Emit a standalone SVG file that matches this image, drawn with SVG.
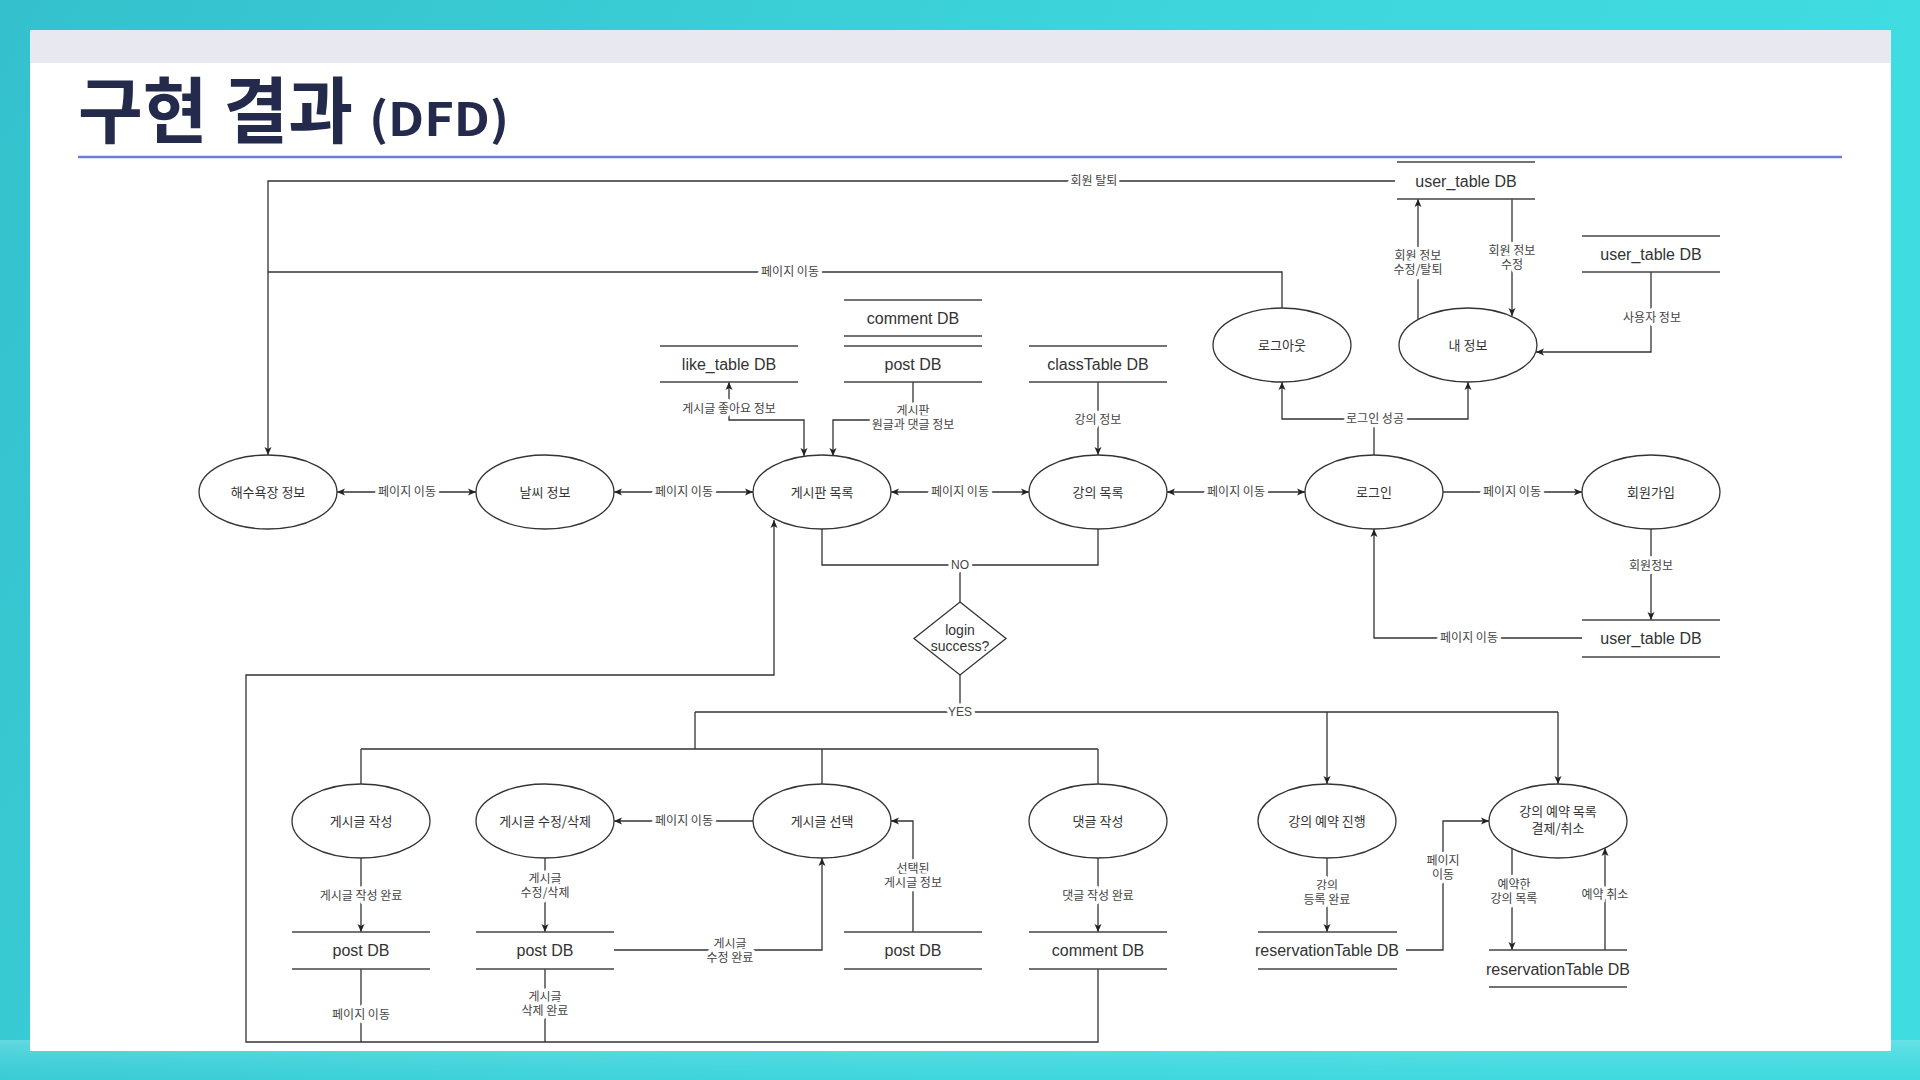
<svg xmlns="http://www.w3.org/2000/svg" width="1920" height="1080" viewBox="0 0 1920 1080">
<defs>
<linearGradient id="bg" x1="0" y1="0" x2="1" y2="0.3">
<stop offset="0" stop-color="#34c1cd"/>
<stop offset="0.6" stop-color="#3ed6dd"/>
<stop offset="1" stop-color="#3fdde1"/>
</linearGradient>
<linearGradient id="bottomwash" x1="0" y1="0" x2="0" y2="1">
<stop offset="0" stop-color="#8fe6ea" stop-opacity="0.5"/>
<stop offset="1" stop-color="#3ccfd8" stop-opacity="0.2"/>
</linearGradient>
<marker id="arr" viewBox="0 0 8 8" markerWidth="8" markerHeight="8" refX="8" refY="4" orient="auto-start-reverse" markerUnits="userSpaceOnUse">
<path d="M0,0.5 L8,4 L0,7.5 L2,4 z" fill="#222"/>
</marker>
<style>
.proc{fill:#fff;stroke:#333;stroke-width:1.3}
.ptxt{font-family:"Noto Sans CJK KR","Noto Sans",sans-serif;font-size:13px;fill:#333;text-anchor:middle}
.ds{stroke:#444;stroke-width:1.3}
.dtxt{font-family:"Liberation Sans",Arial,sans-serif;font-size:16px;fill:#333;text-anchor:middle}
.ln{fill:none;stroke:#333;stroke-width:1.3}
.ar{marker-end:url(#arr)}
.ar2{marker-start:url(#arr);marker-end:url(#arr)}
.lbl{font-family:"Noto Sans CJK KR","Noto Sans",sans-serif;font-size:12px;fill:#444;text-anchor:middle;stroke:#fff;stroke-width:7px;paint-order:stroke;stroke-linejoin:round}
.lbll{font-family:"Liberation Sans",Arial,sans-serif;font-size:12px;fill:#444;text-anchor:middle;stroke:#fff;stroke-width:7px;paint-order:stroke;stroke-linejoin:round}
.title{font-family:"Noto Sans CJK KR","Noto Sans",sans-serif;font-weight:700;fill:#232a4b}
</style>
</defs>

<!-- background & slide -->
<rect x="0" y="0" width="1920" height="1080" fill="url(#bg)"/>
<rect x="0" y="1040" width="1920" height="40" fill="url(#bottomwash)"/>
<rect x="30" y="30" width="1861" height="1021" fill="#ffffff"/>
<rect x="30" y="30" width="1861" height="33" fill="#e8e8f1"/>
<text class="title" x="78" y="137" font-size="72" textLength="275" lengthAdjust="spacingAndGlyphs">구현 결과</text>
<text class="title" x="369" y="136" font-size="46" textLength="140" lengthAdjust="spacingAndGlyphs">(DFD)</text>
<line x1="78" y1="157" x2="1842" y2="157" stroke="#6f7fd0" stroke-width="2.5"/>

<!-- connectors -->
<g id="connectors">
<path class="ln ar" d="M1395,181 H268 V455"/>
<path class="ln" d="M1282,308 V272 H268"/>
<path class="ln ar" d="M1418,319 V199"/>
<path class="ln ar" d="M1512,199 V316"/>
<path class="ln ar" d="M1651,272 V352 H1536"/>
<path class="ln ar2" d="M1282,382 V419 H1468 V382"/>
<path class="ln" d="M1374,455 V419"/>
<path class="ln ar2" d="M729,382 V420 H804 V456"/>
<path class="ln ar" d="M913,382 V420 H833 V456"/>
<path class="ln ar" d="M1098,382 V455"/>
<path class="ln ar2" d="M337,492 H476"/>
<path class="ln ar2" d="M614,492 H753"/>
<path class="ln ar2" d="M891,492 H1029"/>
<path class="ln ar2" d="M1167,492 H1305"/>
<path class="ln ar" d="M1443,492 H1582"/>
<path class="ln ar" d="M1651,529 V620"/>
<path class="ln ar" d="M1582,638 H1374 V529"/>
<path class="ln" d="M822,529 V565 H1098 V529 M960,565 V602"/>
<path class="ln" d="M960,675 V712 M695,712 H1558 M695,712 V749 M361,749 H1098 M361,749 V784 M822,749 V784 M1098,749 V784"/>
<path class="ln ar" d="M1327,712 V784"/>
<path class="ln ar" d="M1558,712 V784"/>
<path class="ln ar" d="M753,821 H614"/>
<path class="ln ar" d="M913,932 V821 H891"/>
<path class="ln ar" d="M361,858 V932"/>
<path class="ln ar" d="M545,858 V932"/>
<path class="ln ar" d="M614,950 H822 V858"/>
<path class="ln ar" d="M1098,858 V932"/>
<path class="ln" d="M361,969 V1042 M545,969 V1042"/>
<path class="ln ar" d="M1098,969 V1042 H246 V675 H774 V520"/>
<path class="ln ar" d="M1327,858 V932"/>
<path class="ln ar" d="M1406,950 H1443 V821 H1489"/>
<path class="ln ar" d="M1512,848 V950"/>
<path class="ln ar" d="M1605,950 V848"/>

<text class="lbl" x="1094" y="185">회원 탈퇴</text>
<text class="lbl" x="790" y="276">페이지 이동</text>
<text class="lbl" x="1418" y="260">회원 정보<tspan x="1418" dy="14">수정/탈퇴</tspan></text>
<text class="lbl" x="1512" y="255">회원 정보<tspan x="1512" dy="14">수정</tspan></text>
<text class="lbl" x="1652" y="322">사용자 정보</text>
<text class="lbl" x="1375" y="423">로그인 성공</text>
<text class="lbl" x="729" y="413">게시글 좋아요 정보</text>
<text class="lbl" x="913" y="415">게시판<tspan x="913" dy="14">원글과 댓글 정보</tspan></text>
<text class="lbl" x="1098" y="424">강의 정보</text>
<text class="lbl" x="407" y="496">페이지 이동</text>
<text class="lbl" x="684" y="496">페이지 이동</text>
<text class="lbl" x="960" y="496">페이지 이동</text>
<text class="lbl" x="1236" y="496">페이지 이동</text>
<text class="lbl" x="1512" y="496">페이지 이동</text>
<text class="lbl" x="1651" y="570">회원정보</text>
<text class="lbl" x="1469" y="642">페이지 이동</text>
<text class="lbll" x="960" y="569">NO</text>
<text class="lbll" x="960" y="716">YES</text>
<text class="lbl" x="684" y="825">페이지 이동</text>
<text class="lbl" x="913" y="873">선택된<tspan x="913" dy="14">게시글 정보</tspan></text>
<text class="lbl" x="361" y="900">게시글 작성 완료</text>
<text class="lbl" x="545" y="883">게시글<tspan x="545" dy="14">수정/삭제</tspan></text>
<text class="lbl" x="730" y="948">게시글<tspan x="730" dy="14">수정 완료</tspan></text>
<text class="lbl" x="1098" y="900">댓글 작성 완료</text>
<text class="lbl" x="361" y="1019">페이지 이동</text>
<text class="lbl" x="545" y="1001">게시글<tspan x="545" dy="14">삭제 완료</tspan></text>
<text class="lbl" x="1327" y="890">강의<tspan x="1327" dy="14">등록 완료</tspan></text>
<text class="lbl" x="1443" y="865">페이지<tspan x="1443" dy="14">이동</tspan></text>
<text class="lbl" x="1514" y="889">예약한<tspan x="1514" dy="14">강의 목록</tspan></text>
<text class="lbl" x="1605" y="899">예약 취소</text>
</g>

<!-- processes -->
<g id="p-beach"><ellipse class="proc" cx="268" cy="492" rx="69" ry="37"/><text class="ptxt" x="268" y="497">해수욕장 정보</text></g>
<g id="p-weather"><ellipse class="proc" cx="545" cy="492" rx="69" ry="37"/><text class="ptxt" x="545" y="497">날씨 정보</text></g>
<g id="p-board"><ellipse class="proc" cx="822" cy="492" rx="69" ry="37"/><text class="ptxt" x="822" y="497">게시판 목록</text></g>
<g id="p-class"><ellipse class="proc" cx="1098" cy="492" rx="69" ry="37"/><text class="ptxt" x="1098" y="497">강의 목록</text></g>
<g id="p-login"><ellipse class="proc" cx="1374" cy="492" rx="69" ry="37"/><text class="ptxt" x="1374" y="497">로그인</text></g>
<g id="p-signup"><ellipse class="proc" cx="1651" cy="492" rx="69" ry="37"/><text class="ptxt" x="1651" y="497">회원가입</text></g>
<g id="p-logout"><ellipse class="proc" cx="1282" cy="345" rx="69" ry="37"/><text class="ptxt" x="1282" y="350">로그아웃</text></g>
<g id="p-myinfo"><ellipse class="proc" cx="1468" cy="345" rx="69" ry="37"/><text class="ptxt" x="1468" y="350">내 정보</text></g>
<g id="p-write"><ellipse class="proc" cx="361" cy="821" rx="69" ry="37"/><text class="ptxt" x="361" y="826">게시글 작성</text></g>
<g id="p-edit"><ellipse class="proc" cx="545" cy="821" rx="69" ry="37"/><text class="ptxt" x="545" y="826">게시글 수정/삭제</text></g>
<g id="p-select"><ellipse class="proc" cx="822" cy="821" rx="69" ry="37"/><text class="ptxt" x="822" y="826">게시글 선택</text></g>
<g id="p-comment"><ellipse class="proc" cx="1098" cy="821" rx="69" ry="37"/><text class="ptxt" x="1098" y="826">댓글 작성</text></g>
<g id="p-reserve"><ellipse class="proc" cx="1327" cy="821" rx="69" ry="37"/><text class="ptxt" x="1327" y="826">강의 예약 진행</text></g>
<g id="p-reslist"><ellipse class="proc" cx="1558" cy="821" rx="69" ry="37"/><text class="ptxt" x="1558" y="816">강의 예약 목록<tspan x="1558" dy="17">결제/취소</tspan></text></g>

<!-- decision -->
<g id="d-login"><path class="proc" d="M960,602 L1006,638.5 L960,675 L914,638.5 z"/><text class="dtxt" style="font-size:14px" x="960" y="635">login</text><text class="dtxt" style="font-size:14px" x="960" y="651">success?</text></g>

<!-- data stores -->
<g id="ds-user1"><line class="ds" x1="1397" y1="162" x2="1535" y2="162"/><line class="ds" x1="1397" y1="199" x2="1535" y2="199"/><text class="dtxt" x="1466" y="187">user_table DB</text></g>
<g id="ds-user2"><line class="ds" x1="1582" y1="236" x2="1720" y2="236"/><line class="ds" x1="1582" y1="272" x2="1720" y2="272"/><text class="dtxt" x="1651" y="260">user_table DB</text></g>
<g id="ds-comment1"><line class="ds" x1="844" y1="300" x2="982" y2="300"/><line class="ds" x1="844" y1="336" x2="982" y2="336"/><text class="dtxt" x="913" y="324">comment DB</text></g>
<g id="ds-post1"><line class="ds" x1="844" y1="346" x2="982" y2="346"/><line class="ds" x1="844" y1="382" x2="982" y2="382"/><text class="dtxt" x="913" y="370">post DB</text></g>
<g id="ds-like"><line class="ds" x1="660" y1="346" x2="798" y2="346"/><line class="ds" x1="660" y1="382" x2="798" y2="382"/><text class="dtxt" x="729" y="370">like_table DB</text></g>
<g id="ds-class"><line class="ds" x1="1029" y1="346" x2="1167" y2="346"/><line class="ds" x1="1029" y1="382" x2="1167" y2="382"/><text class="dtxt" x="1098" y="370">classTable DB</text></g>
<g id="ds-user3"><line class="ds" x1="1582" y1="620" x2="1720" y2="620"/><line class="ds" x1="1582" y1="657" x2="1720" y2="657"/><text class="dtxt" x="1651" y="644">user_table DB</text></g>
<g id="ds-post2"><line class="ds" x1="292" y1="932" x2="430" y2="932"/><line class="ds" x1="292" y1="969" x2="430" y2="969"/><text class="dtxt" x="361" y="956">post DB</text></g>
<g id="ds-post3"><line class="ds" x1="476" y1="932" x2="614" y2="932"/><line class="ds" x1="476" y1="969" x2="614" y2="969"/><text class="dtxt" x="545" y="956">post DB</text></g>
<g id="ds-post4"><line class="ds" x1="844" y1="932" x2="982" y2="932"/><line class="ds" x1="844" y1="969" x2="982" y2="969"/><text class="dtxt" x="913" y="956">post DB</text></g>
<g id="ds-comment2"><line class="ds" x1="1029" y1="932" x2="1167" y2="932"/><line class="ds" x1="1029" y1="969" x2="1167" y2="969"/><text class="dtxt" x="1098" y="956">comment DB</text></g>
<g id="ds-res1"><line class="ds" x1="1258" y1="932" x2="1397" y2="932"/><line class="ds" x1="1258" y1="969" x2="1397" y2="969"/><text class="dtxt" x="1327" y="956">reservationTable DB</text></g>
<g id="ds-res2"><line class="ds" x1="1489" y1="950" x2="1627" y2="950"/><line class="ds" x1="1489" y1="987" x2="1627" y2="987"/><text class="dtxt" x="1558" y="975">reservationTable DB</text></g>
</svg>
